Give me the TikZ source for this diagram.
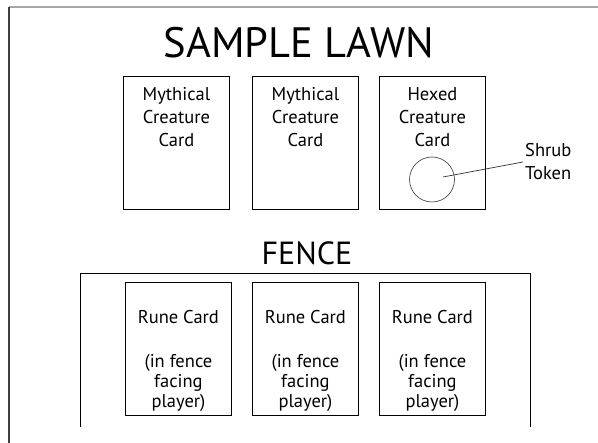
\documentclass[tikz,border=0pt]{standalone}
\usepackage{fontspec}
\setmainfont{PT Sans}
\begin{document}
\begin{tikzpicture}[x=1pt,y=-1pt,
  card/.style={draw=black,line width=0.9pt,minimum width=106pt,minimum height=133pt,inner sep=0pt,anchor=north west},
  cardtxt/.style={align=center,font=\fontsize{18.5}{23}\selectfont,anchor=north,inner sep=0pt},
  runetxt/.style={align=center,font=\fontsize{18.5}{20}\selectfont,anchor=north,inner sep=0pt},
  title/.style={font=\fontsize{42.5}{44}\selectfont,anchor=base},
  line/.style={draw=black,line width=0.8pt}]
\useasboundingbox (0,0) rectangle (598,443);
% outer frame
\coordinate (fTL) at (9,7);
\coordinate (fTR) at (598,7);
\coordinate (fBL) at (9,443);
\draw[line width=1.2pt,color=black!35] (fTL) -- (fTR);
\draw[line width=1.2pt,color=black!75] (fTL) -- (fBL);
% title
\node[title] (t1) at (299,58) {SAMPLE LAWN};
% top cards
\node[card] (c1) at (123,76) {};
\node[card] (c2) at (252,76) {};
\node[card] (c3) at (379,76) {};
\node[cardtxt] (c1t) at ([yshift=-11pt]c1.north) {Mythical\\Creature\\Card};
\node[cardtxt] (c2t) at ([yshift=-11pt]c2.north) {Mythical\\Creature\\Card};
\node[cardtxt] (c3t) at ([yshift=-11pt]c3.north) {Hexed\\Creature\\Card};
\node[draw=black!70,line width=0.7pt,circle,minimum size=45pt,inner sep=0pt] (shrub) at (432,179.5) {};
\node[align=left,anchor=north west,inner sep=0pt,font=\fontsize{18.5}{23}\selectfont] (shrubt) at (525,143) {Shrub\\Token};
\coordinate (sc) at (443,177);
\coordinate (se) at (523,162);
\draw[line width=0.7pt,black!80] (sc) -- (se);
% fence
\node[font=\fontsize{32}{32}\selectfont,anchor=base] (fence) at (307,265) {FENCE};
\coordinate (fl) at (80,273);
\coordinate (fr) at (530,273);
\coordinate (flb) at (80,427);
\coordinate (frb) at (530,427);
\draw[line] (flb) -- (fl) -- (fr) -- (frb);
% rune cards
\node[card] (r1) at (125,282) {};
\node[card] (r2) at (252,282) {};
\node[card] (r3) at (379,282) {};
\foreach \r in {r1,r2,r3}{
  \node[runetxt] (\r a) at ([yshift=-28pt]\r.north) {Rune Card};
  \node[runetxt] (\r b) at ([yshift=-72pt]\r.north) {(in fence\\facing\\player)};
}
\end{tikzpicture}
\end{document}
